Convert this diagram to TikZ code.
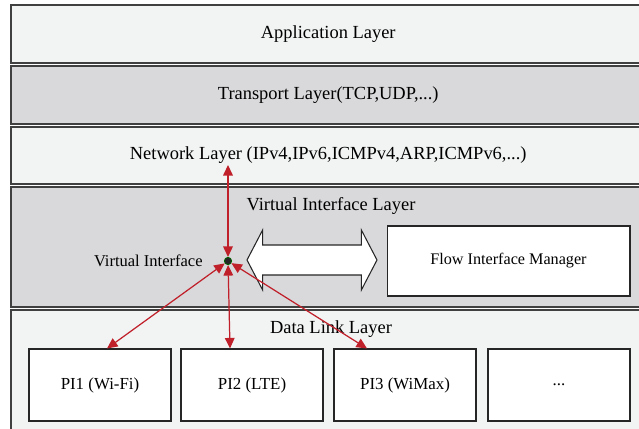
\documentclass[tikz,border=0pt]{standalone}
\usepackage{fontspec}
\setmainfont{Liberation Serif}
\usetikzlibrary{shapes, shapes.arrows, arrows.meta, calc, positioning}
\definecolor{lightlayer}{HTML}{F2F3F3}
\definecolor{darklayer}{HTML}{D9D9DB}
\definecolor{linkred}{HTML}{C0202A}
\begin{document}
\begin{tikzpicture}[x=0.02cm,y=-0.02cm,font=\fontsize{10.5}{12}\selectfont,
  layer/.style={draw=black!75, line width=0.9pt, rectangle, anchor=north west, minimum width=12.7cm},
  box/.style={draw=black!85, line width=0.6pt, fill=white, rectangle, minimum height=1.44cm, minimum width=2.84cm, font=\fontsize{9.6}{11}\selectfont},
  link/.style={draw=linkred, line width=0.7pt, {Triangle[length=6pt,width=5.5pt]}-{Triangle[length=6pt,width=5.5pt]}},
  ]
 \useasboundingbox (0,0) rectangle (639,429);
 % protocol layers
 \node[layer, fill=lightlayer, minimum height=1.16cm] (app) at (10,4) {Application Layer};
 \node[layer, fill=darklayer, minimum height=1.16cm] (tra) at (10,65) {Transport Layer(TCP,UDP,...)};
 \node[layer, fill=lightlayer, minimum height=1.14cm] (net) at (10,126) {Network Layer (IPv4,IPv6,ICMPv4,ARP,ICMPv6,...)};
 \node[layer, fill=darklayer, minimum height=2.4cm] (vil) at (10,186) {};
 \node[layer, fill=lightlayer, minimum height=2.6cm] (dll) at (10,309) {};
 \node[inner sep=0] (viltxt) at (331,206) {Virtual Interface Layer};
 \node[inner sep=0] (dlltxt) at (331,329) {Data Link Layer};
 % virtual interface
 \node[circle, fill=black!85, draw=black!60!green, inner sep=0, minimum size=4.2pt] (vi) at (228,261) {};
 \node[left=0.42cm of vi, inner sep=0, font=\fontsize{9.4}{11}\selectfont] (vitxt) {Virtual Interface};
 \node[double arrow, draw=black!85, fill=white, line width=0.6pt, double arrow tip angle=125,
       double arrow head extend=0.3cm, text height=0.29cm, text depth=0.29cm, minimum height=2.6cm, inner sep=0] (dbl) at (312,260) {};
 \node[box, minimum width=4.86cm, minimum height=1.4cm, font=\fontsize{9.2}{11}\selectfont] (fim) at (508.5,261) {Flow Interface Manager};
 % physical interfaces
 \node[box] (pi1) at (100,385) {PI1 (Wi-Fi)};
 \node[box] (pi2) at (252,385) {PI2 (LTE)};
 \node[box] (pi3) at (405,385) {PI3 (WiMax)};
 \node[box] (pi4) at (559,385) {...};
 \coordinate (nettop) at (228,165);
 \draw[link] (nettop) -- (vi);
 \draw[link] (vi) -- ([xshift=0.14cm]pi1.north);
 \draw[link] (vi) -- ([xshift=-0.44cm]pi2.north);
 \draw[link] (vi) -- ([xshift=-0.76cm]pi3.north);
\end{tikzpicture}
\end{document}
